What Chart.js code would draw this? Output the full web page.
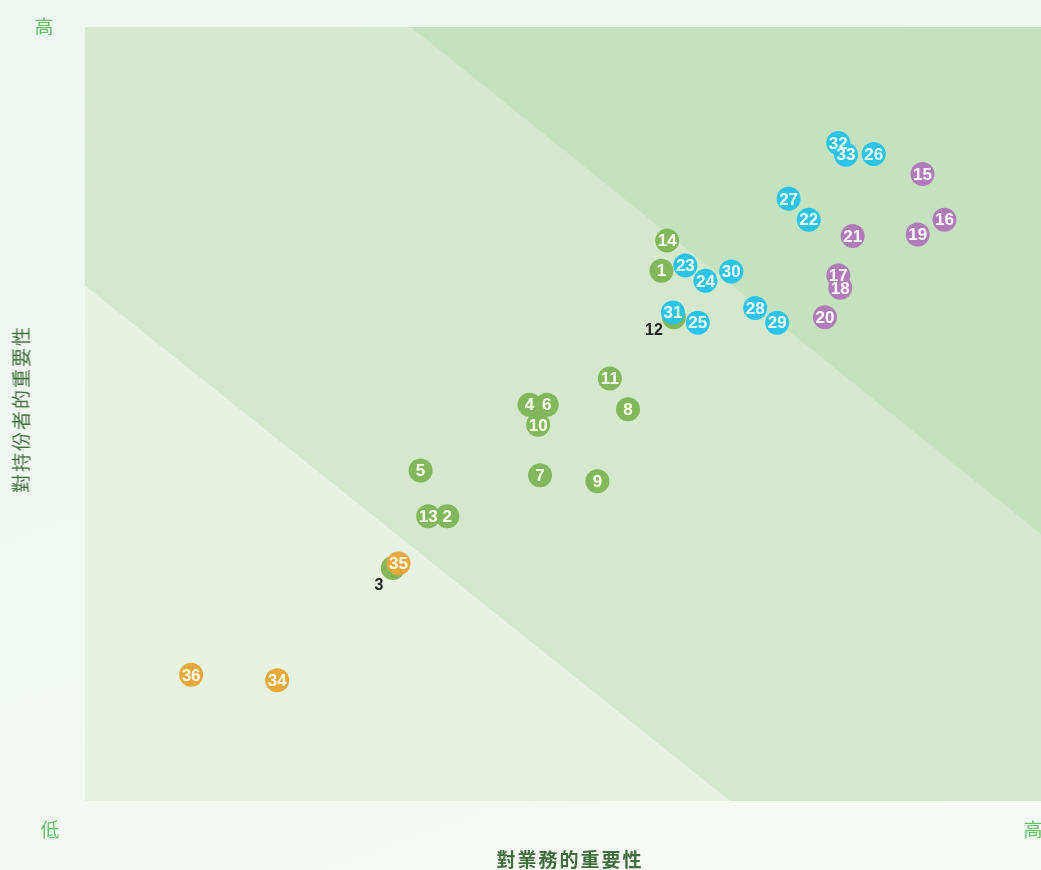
<!DOCTYPE html>
<html>
<head>
<meta charset="utf-8">
<script src="https://cdn.jsdelivr.net/npm/chart.js@4"></script>
<style>
  html, body { margin: 0; padding: 0; }
  body { width: 1041px; height: 870px; overflow: hidden;
    background: linear-gradient(160deg, #eef6f1 0%, #f2f8f3 50%, #f8faf5 100%); }
  #wrap { position: relative; width: 1041px; height: 870px; }
  canvas { position: absolute; left: 0; top: 0; }
  .txt { position: absolute; transform: translate(-50%, -50%); white-space: nowrap;
    font-family: "Noto Sans CJK TC", "Noto Sans CJK SC", sans-serif; line-height: 1; }
  .corner { color: #66c06a; font-size: 19px; }
  .axis { color: #3f6d3c; font-size: 19px; letter-spacing: 2px; }
</style>
</head>
<body>
<div id="wrap">
  <canvas id="matrix" width="1041" height="870"></canvas>
  <div class="txt corner" style="left:44px;top:25px">高</div>
  <div class="txt corner" style="left:50px;top:828px">低</div>
  <div class="txt corner" style="left:1033px;top:828px">高</div>
  <div class="txt axis" style="left:570px;top:858px;font-weight:bold">對業務的重要性</div>
  <div class="txt axis" style="left:20px;top:409px;transform:translate(-50%,-50%) rotate(-90deg)">對持份者的重要性</div>
</div>
<script>
// Issue ids, x = importance to business, y = importance to stakeholders (0-100)
const greenIds = [1, 2, 3, 4, 5, 6, 7, 8, 9, 10, 11, 12, 13, 14];
const greenX = [60.3, 37.9, 32.2, 46.5, 35.1, 48.3, 47.6, 56.8, 53.6, 47.4, 54.9, 61.6, 35.9, 60.9];
const greenY = [68.5, 36.8, 30.1, 51.2, 42.7, 51.2, 42.1, 50.6, 41.3, 48.6, 54.6, 62.5, 36.8, 72.4];

const purpleIds = [15, 16, 17, 18, 19, 20, 21];
const purpleX = [87.6, 89.9, 78.8, 79.0, 87.1, 77.4, 80.3];
const purpleY = [81.0, 75.1, 67.9, 66.3, 73.2, 62.5, 73.0];

const blueIds = [22, 23, 24, 25, 26, 27, 28, 29, 30, 31, 32, 33];
const blueX = [75.7, 62.8, 64.9, 64.1, 82.5, 73.6, 70.1, 72.4, 67.6, 61.5, 78.8, 79.6];
const blueY = [75.1, 69.2, 67.2, 61.8, 83.6, 77.8, 63.7, 61.8, 68.4, 63.1, 85.0, 83.5];

const orangeIds = [34, 35, 36];
const orangeX = [20.1, 32.8, 11.1];
const orangeY = [15.6, 30.7, 16.3];

// background zones (data coords)
const zoneLow = [[0, 0], [0, 66.6], [67.5, 0]];
const zoneHigh = [[34.1, 100], [100, 100], [100, 34.5]];

// labels hidden under another bubble get drawn beside it
const labelShift = { 12: [-20, 13], 3: [-14, 18] };

const COLORS = {
  green: "#82b75b",
  purple: "#b07cb8",
  blue: "#29c3ee",
  orange: "#e8a93a",
  zoneMid: "#d3e8cd",
  zoneLow: "#e7f2e2",
  zoneHigh: "#c5e2bf",
};

function toPoints(xs, ys) {
  return xs.map((x, i) => ({ x, y: ys[i] }));
}

const groups = [
  { ids: greenIds, xs: greenX, ys: greenY, color: COLORS.green, order: 4 },
  { ids: purpleIds, xs: purpleX, ys: purpleY, color: COLORS.purple, order: 3 },
  { ids: blueIds, xs: blueX, ys: blueY, color: COLORS.blue, order: 2 },
  { ids: orangeIds, xs: orangeX, ys: orangeY, color: COLORS.orange, order: 1 },
];

const datasets = groups.map(g => ({
  data: toPoints(g.xs, g.ys),
  ids: g.ids,
  backgroundColor: g.color,
  borderWidth: 0,
  pointRadius: 12,
  pointHoverRadius: 12,
  order: g.order,
}));

const zonesPlugin = {
  id: "zones",
  beforeDatasetsDraw(chart) {
    const { ctx, chartArea: a, scales: { x, y } } = chart;
    ctx.save();
    ctx.beginPath();
    ctx.rect(a.left, a.top, a.right - a.left, a.bottom - a.top);
    ctx.clip();
    ctx.fillStyle = COLORS.zoneMid;
    ctx.fillRect(a.left, a.top, a.right - a.left, a.bottom - a.top);
    const poly = (pts, color) => {
      ctx.beginPath();
      pts.forEach(([px, py], i) => {
        const X = x.getPixelForValue(px), Y = y.getPixelForValue(py);
        i ? ctx.lineTo(X, Y) : ctx.moveTo(X, Y);
      });
      ctx.closePath();
      ctx.fillStyle = color;
      ctx.fill();
    };
    poly(zoneLow, COLORS.zoneLow);
    poly(zoneHigh, COLORS.zoneHigh);
    ctx.restore();
  },
};

const labelsPlugin = {
  id: "bubbleLabels",
  afterDatasetDraw(chart, args) {
    const { ctx } = chart;
    const ds = chart.data.datasets[args.index];
    const meta = args.meta;
    ctx.save();
    ctx.font = "bold 17px 'Liberation Sans', Arial, sans-serif";
    ctx.textAlign = "center";
    ctx.textBaseline = "middle";
    meta.data.forEach((el, i) => {
      const id = ds.ids[i];
      const shift = labelShift[id];
      if (shift) {
        ctx.fillStyle = "#222";
        ctx.font = "bold 16px 'Liberation Sans', Arial, sans-serif";
        ctx.fillText(String(id), el.x + shift[0], el.y + shift[1]);
        ctx.font = "bold 17px 'Liberation Sans', Arial, sans-serif";
      } else {
        ctx.fillStyle = "#fff";
        ctx.fillText(String(id), el.x, el.y + 1);
      }
    });
    ctx.restore();
  },
};

new Chart(document.getElementById("matrix").getContext("2d"), {
  type: "scatter",
  data: { datasets },
  options: {
    responsive: false,
    animation: false,
    layout: { autoPadding: false, padding: { left: 85, right: 0, top: 27, bottom: 69 } },
    plugins: { legend: { display: false }, tooltip: { enabled: false } },
    scales: {
      x: { type: "linear", min: 0, max: 100, display: false },
      y: { type: "linear", min: 0, max: 100, display: false },
    },
  },
  plugins: [zonesPlugin, labelsPlugin],
});
</script>
</body>
</html>
